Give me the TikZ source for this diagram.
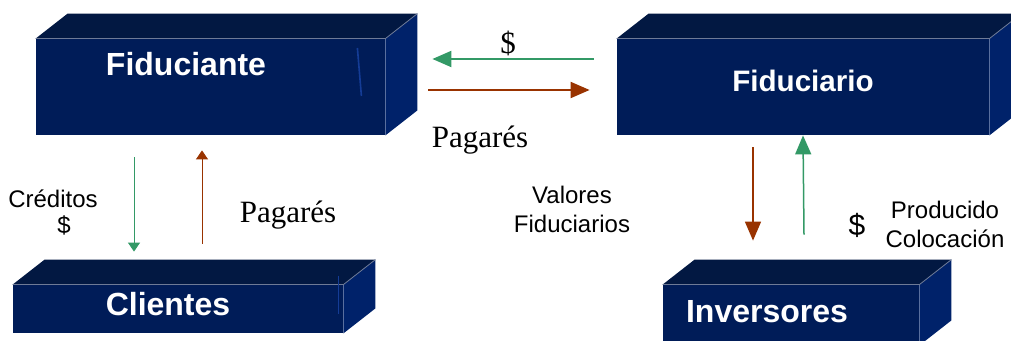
\documentclass[tikz,border=0pt]{standalone}
\usepackage{fontspec}
\setmainfont{Liberation Serif}
\setsansfont{Liberation Sans}
\usetikzlibrary{arrows.meta}
\definecolor{frente}{RGB}{0,28,88}
\definecolor{techo}{RGB}{2,24,66}
\definecolor{lado}{RGB}{0,34,106}
\definecolor{borde}{RGB}{110,122,150}
\definecolor{raya}{RGB}{20,60,150}
\definecolor{verde}{RGB}{51,153,102}
\definecolor{cafe}{RGB}{153,51,0}
\begin{document}
\begin{tikzpicture}[x=0.5pt,y=-0.5pt,
    cara/.style={fill=frente,inner sep=0pt},
    titulo/.style={text=white,anchor=base,font=\sffamily\bfseries\fontsize{16}{19}\selectfont},
    rotulo/.style={align=center,font=\sffamily\fontsize{12}{14.5}\selectfont},
    serif/.style={anchor=base,font=\rmfamily\fontsize{15.5}{18}\selectfont},
    fina/.style={line width=0.5pt,-{Triangle[length=4.5pt,width=6pt]}},
    gruesa/.style={line width=1pt,-{Triangle[length=9.5pt,width=8pt]}}]
  \clip (0,0) rectangle (1011,341);
  % frentes de las cajas
  \node[cara,minimum width=174.5pt,minimum height=48pt] (fte) at (210.5,87) {};
  \node[cara,minimum width=186pt,minimum height=48pt] (fio) at (803,87) {};
  \node[cara,minimum width=165pt,minimum height=24pt] (cli) at (178,309) {};
  \node[cara,minimum width=128pt,minimum height=30pt] (inv) at (791,315) {};
  % techo y lado
  \foreach \n in {fte,fio,cli,inv} {
    \fill[techo] (\n.north west) -- ++(32,-25) -- ([shift={(32,-25)}]\n.north east) -- (\n.north east) -- cycle;
    \fill[lado] (\n.north east) -- ++(32,-25) -- ([shift={(32,-25)}]\n.south east) -- (\n.south east) -- cycle;
    \draw[borde,line width=0.4pt] (\n.north west) -- (\n.north east) -- ++(32,-25);
  }
  \draw[raya,line width=0.8pt] ([shift={(-28,-39)}]fte.east) -- ([shift={(-24,9)}]fte.east);
  \draw[raya,line width=0.8pt] ([shift={(-5,-9)}]cli.north east) -- ([shift={(-5,29)}]cli.north east);
  % nombres
  \node[titulo] (tfte) at (186,76) {Fiduciante};
  \node[titulo,font=\sffamily\bfseries\fontsize{14.8}{18}\selectfont] (tfio) at (803,92) {Fiduciario};
  \node[titulo] (tcli) at (168,316) {Clientes};
  \node[titulo] (tinv) at (767,323) {Inversores};
  % flechas
  \draw[gruesa,verde] ([shift={(-23,-28)}]fio.west) -- ([shift={(47,-28)}]fte.east);
  \draw[gruesa,cafe] ([shift={(43,3)}]fte.east) -- ([shift={(-27,3)}]fio.west);
  \draw[fina,verde] ([shift={(-76.5,22)}]fte.south) -- ([shift={(-44,-33)}]cli.north);
  \draw[fina,cafe] ([shift={(24,-41)}]cli.north) -- ([shift={(-8.5,15)}]fte.south);
  \draw[gruesa,cafe,line width=0.75pt] ([shift={(-50,12)}]fio.south) -- ([shift={(-38,-44)}]inv.north);
  \draw[gruesa,verde,line width=0.75pt] ([shift={(13,-50)}]inv.north) -- (fio.south);
  % rotulos
  \node[serif,anchor=center] (dol1) at (508,43) {\$};
  \node[serif] (pag1) at (480,148) {Pagarés};
  \node[serif] (pag2) at (288,223) {Pagarés};
  \node[rotulo,anchor=base] (cred) at (53,208) {Créditos};
  \node[rotulo,anchor=base] (dol2) at (64,234) {\$};
  \node[rotulo] (val) at (572,209) {Valores\\Fiduciarios};
  \node[rotulo,font=\sffamily\fontsize{15}{18}\selectfont] (dol3) at (857,225) {\$};
  \node[rotulo] (prod) at (945,224) {Producido\\Colocación};
\end{tikzpicture}
\end{document}
